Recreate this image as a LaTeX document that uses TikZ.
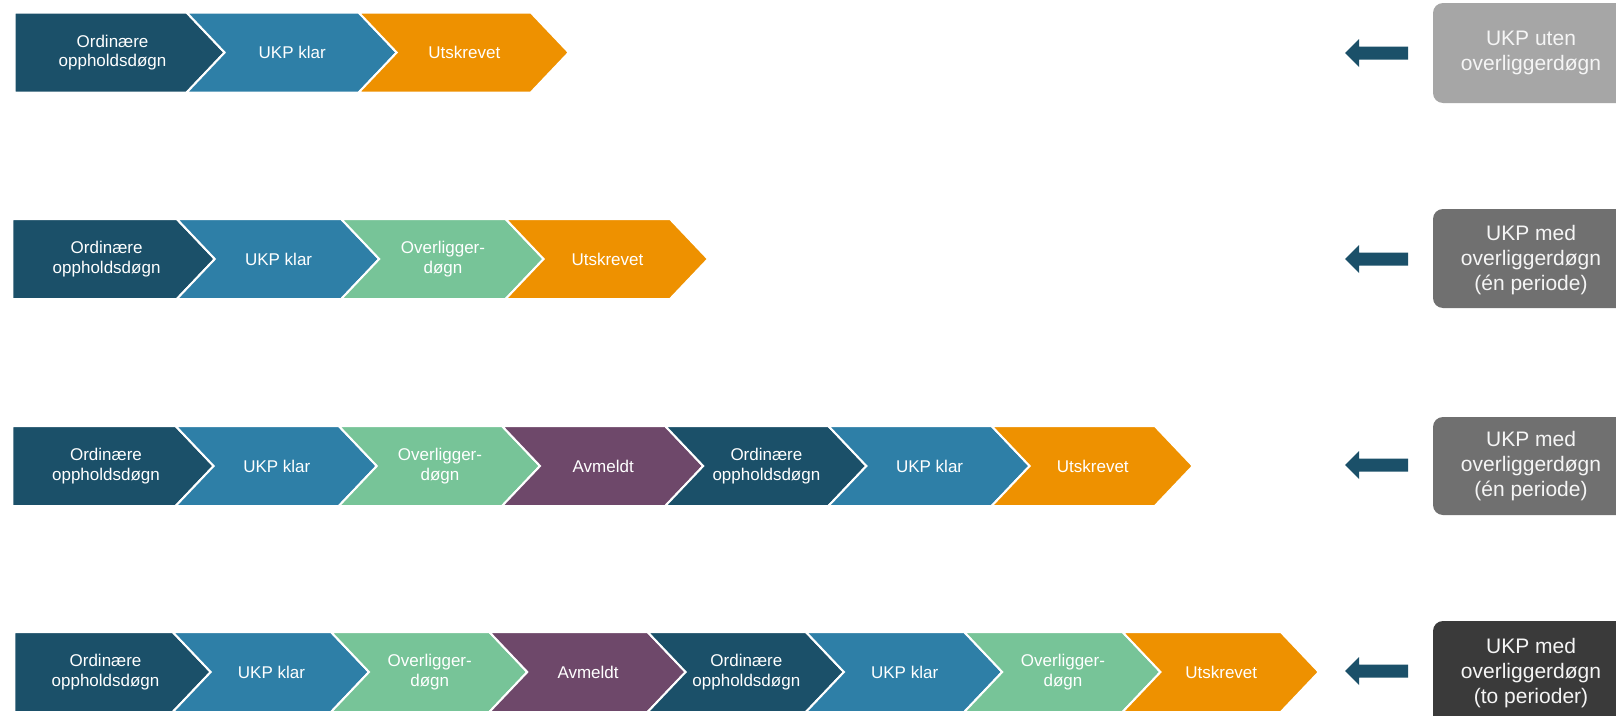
\documentclass[tikz,border=0pt]{standalone}
\usepackage{fontspec}
\setmainfont{Liberation Sans}

\definecolor{ordcol}{HTML}{1B5069}
\definecolor{ukpcol}{HTML}{2E7FA7}
\definecolor{ovcol}{HTML}{77C498}
\definecolor{avcol}{HTML}{6E486A}
\definecolor{utcol}{HTML}{EE9100}
\definecolor{boxa}{HTML}{A6A6A6}
\definecolor{boxb}{HTML}{707070}
\definecolor{boxc}{HTML}{3A3A3A}

\tikzset{
  lbl/.style={text=white, align=center, inner sep=0pt, font=\fontsize{17}{19.5}\selectfont},
  boxlbl/.style={text=white!96!black, align=center, inner sep=0pt, font=\fontsize{21}{25}\selectfont}
}

% one row of chevrons: #1 tag, #2 left x, #3 top y, #4 body width, #5 text/colour list
\newcommand{\chevrow}[5]{%
  \foreach \lbl/\col [count=\i from 0] in {#5} {
    \pgfmathsetmacro{\xl}{#2+\i*#4}
    \pgfmathsetmacro{\nd}{ifthenelse(\i==0,0,38)}
    \fill[\col, draw=white, line width=2pt] (\xl,#3) -- ++(#4,0) -- ++(38,40) -- ++(-38,40)
      -- ++(-#4,0) -- ++(\nd,-40) -- cycle;
    \node[lbl] (#1c\i) at (\xl+#4/2+12+\nd/5, #3+40) {\lbl};
  }}

% block arrow pointing left, #1 centre y
\newcommand{\leftarr}[1]{%
  \fill[ordcol] (1408,#1) ++(0,-6.5) -- ++(-49,0) -- ++(0,-7.5) -- ++(-14,14)
    -- ++(14,14) -- ++(0,-7.5) -- ++(49,0) -- cycle;}

\begin{document}
\begin{tikzpicture}[x=1pt, y=-1pt]
  \clip (0,0) rectangle (1616,715);
  \fill[white] (0,0) rectangle (1616,715);

  \chevrow{ra}{14.5}{12.5}{172.1}{{Ordinære\\oppholdsdøgn}/ordcol, {UKP klar}/ukpcol, Utskrevet/utcol}
  \chevrow{rb}{12.4}{219}{164.4}{{Ordinære\\oppholdsdøgn}/ordcol, {UKP klar}/ukpcol,
    {Overligger-\\døgn}/ovcol, Utskrevet/utcol}
  \chevrow{rc}{12.4}{426}{163.2}{{Ordinære\\oppholdsdøgn}/ordcol, {UKP klar}/ukpcol,
    {Overligger-\\døgn}/ovcol, Avmeldt/avcol, {Ordinære\\oppholdsdøgn}/ordcol,
    {UKP klar}/ukpcol, Utskrevet/utcol}
  \chevrow{rd}{14.4}{632}{158.3}{{Ordinære\\oppholdsdøgn}/ordcol, {UKP klar}/ukpcol,
    {Overligger-\\døgn}/ovcol, Avmeldt/avcol, {Ordinære\\oppholdsdøgn}/ordcol,
    {UKP klar}/ukpcol, {Overligger-\\døgn}/ovcol, Utskrevet/utcol}

  \fill[boxa, rounded corners=10pt] (1433,3) rectangle (1650,103);
  \node[boxlbl] (ba) at (1531,53) {UKP uten\\overliggerdøgn};
  \fill[boxb, rounded corners=10pt] (1433,209) rectangle (1650,308);
  \node[boxlbl] (bb) at (1531,260) {UKP med\\overliggerdøgn\\(én periode)};
  \fill[boxb, rounded corners=10pt] (1433,417) rectangle (1650,515);
  \node[boxlbl] (bc) at (1531,466) {UKP med\\overliggerdøgn\\(én periode)};
  \fill[boxc, rounded corners=10pt] (1433,621) rectangle (1650,730);
  \node[boxlbl] (bd) at (1531,673) {UKP med\\overliggerdøgn\\(to perioder)};

  \leftarr{53}
  \leftarr{259}
  \leftarr{465}
  \leftarr{671}
\end{tikzpicture}
\end{document}
